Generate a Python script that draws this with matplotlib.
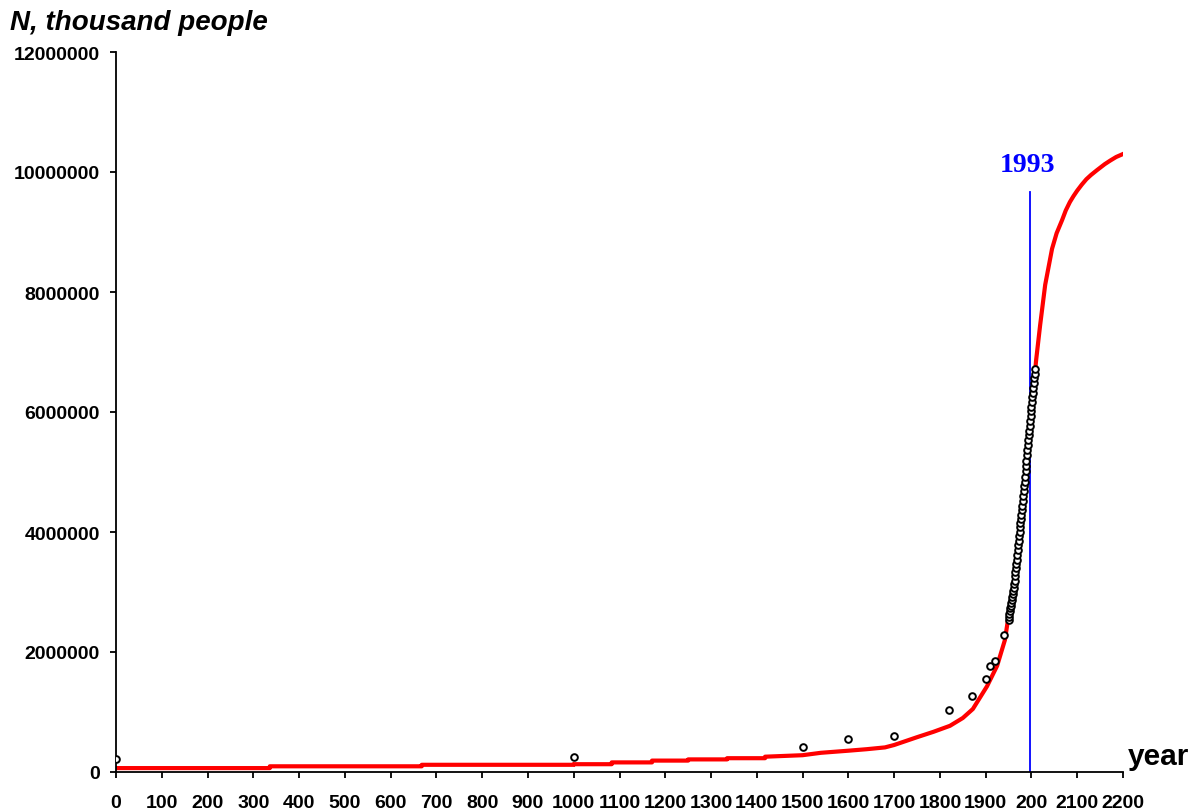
import numpy as np
import matplotlib.pyplot as plt

plt.rcParams['font.family'] = ['Liberation Sans', 'DejaVu Sans']

# --- model curve (red); repeated years give the steps
model_years = [0, 336, 336, 668, 668, 1000, 1000, 1083, 1083, 1171, 1171,
               1250, 1250, 1335, 1335, 1418, 1418, 1500, 1540, 1600, 1640,
               1680, 1700, 1750, 1786, 1822, 1850, 1872, 1903, 1925, 1942,
               1951, 1960, 1970, 1980, 1990, 2000, 2010, 2019, 2030, 2045,
               2055, 2067, 2075, 2084, 2092, 2100, 2110, 2120, 2130, 2143,
               2160, 2172, 2185, 2200]
model_pop = [65000, 65000, 95000, 95000, 120000, 120000, 130000, 130000,
             160000, 160000, 190000, 190000, 210000, 210000, 230000, 230000,
             255000, 280000, 320000, 355000, 380000, 410000, 450000, 580000,
             670000, 770000, 900000, 1050000, 1430000, 1770000, 2200000,
             2650000, 3050000, 3700000, 4400000, 5150000, 5950000, 6850000,
             7450000, 8120000, 8720000, 8980000, 9200000, 9360000, 9500000,
             9600000, 9690000, 9790000, 9880000, 9950000, 10030000,
             10130000, 10190000, 10250000, 10300000]

# --- observed population (circles)
obs_years = [0, 1000, 1500, 1600, 1700, 1820, 1870, 1900, 1910, 1920, 1940,
             1950, 1951, 1952, 1953, 1954, 1955, 1956, 1957, 1958, 1959,
             1960, 1961, 1962, 1963, 1964, 1965, 1966, 1967, 1968, 1969,
             1970, 1971, 1972, 1973, 1974, 1975, 1976, 1977, 1978, 1979,
             1980, 1981, 1982, 1983, 1984, 1985, 1986, 1987, 1988, 1989,
             1990, 1991, 1992, 1993, 1994, 1995, 1996, 1997, 1998, 1999,
             2000, 2001, 2002, 2003, 2004, 2005, 2006, 2007, 2008]
obs_pop = [220000, 255000, 425000, 545000, 600000, 1030000, 1270000,
           1550000, 1770000, 1850000, 2280000,
           2530000, 2580000, 2630000, 2680000, 2730000, 2770000, 2820000,
           2870000, 2920000, 2970000, 3020000, 3070000, 3130000, 3190000,
           3260000, 3330000, 3400000, 3470000, 3540000, 3620000, 3700000,
           3780000, 3850000, 3930000, 4000000, 4080000, 4150000, 4220000,
           4290000, 4370000, 4440000, 4520000, 4600000, 4680000, 4760000,
           4840000, 4920000, 5010000, 5100000, 5190000, 5280000, 5370000,
           5450000, 5530000, 5610000, 5690000, 5770000, 5850000, 5930000,
           6010000, 6090000, 6170000, 6250000, 6320000, 6400000, 6480000,
           6560000, 6640000, 6710000]

marker_year = 1996
marker_top = 9670000
marker_label = "1993"

x_ticks = list(range(0, 2201, 100))
x_labels = [str(v) for v in x_ticks]
x_labels[20] = "200"
y_ticks = list(range(0, 12000001, 2000000))

fig = plt.figure(figsize=(11.97, 8.12), dpi=100)
ax = fig.add_axes([116 / 1197, 39 / 812, 1007 / 1197, 720 / 812])

ax.plot(model_years, model_pop, color='#ff0000', lw=3.0, zorder=2)
ax.plot(obs_years, obs_pop, 'o', ms=4.8, mfc='white', mec='black',
        mew=1.4, zorder=3)
ax.plot([marker_year, marker_year], [0, marker_top], color='#0000ff',
        lw=1.3, zorder=1)
ax.text(marker_year - 5, 10020000, marker_label, color='#0000ff',
        fontsize=20, fontweight='bold', family=['Liberation Serif'],
        ha='center', va='baseline')

ax.set_xlim(0, 2200)
ax.set_ylim(0, 12000000)
ax.set_xticks(x_ticks)
ax.set_xticklabels(x_labels)
ax.set_yticks(y_ticks)
ax.set_yticklabels([str(v) for v in y_ticks])
for lab in ax.get_xticklabels() + ax.get_yticklabels():
    lab.set_fontweight('bold')
    lab.set_fontsize(14)
ax.tick_params(direction='out', length=4.5, width=1.3)
ax.tick_params(axis='y', pad=7)
ax.tick_params(axis='x', pad=11)

for s in ['top', 'right']:
    ax.spines[s].set_visible(False)
for s in ['left', 'bottom']:
    ax.spines[s].set_linewidth(1.3)
ax.set_clip_on(False)

fig.text(10 / 1197, 1 - 30 / 812, "N, thousand people", fontsize=20,
         fontweight='bold', style='italic')
fig.text(1128 / 1197, 1 - 765 / 812, "year", fontsize=21.5, fontweight='bold')

fig.savefig('out.png', dpi=100)
